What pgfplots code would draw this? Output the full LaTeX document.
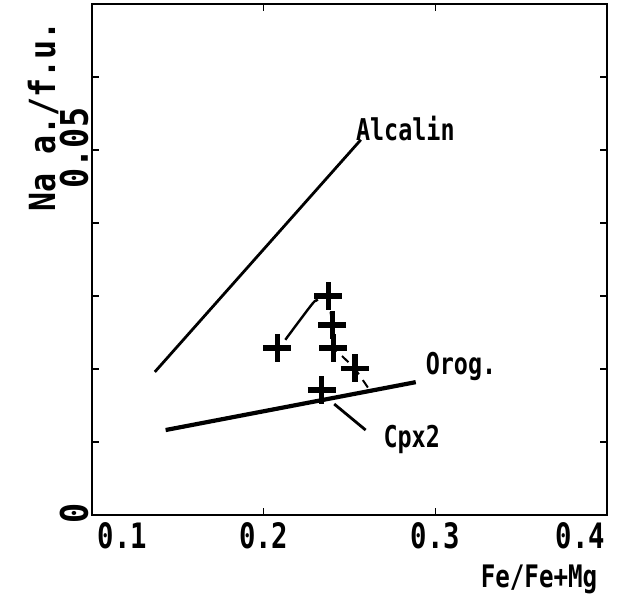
\documentclass[border=0pt]{standalone}
\usepackage{fontspec}
\setmainfont{DejaVu Sans Mono}[FakeStretch=0.78]
\newfontfamily\widefont{DejaVu Sans Mono}[FakeStretch=0.88]
\usepackage{pgfplots}
\pgfplotsset{compat=1.18}

\begin{document}
\begin{tikzpicture}
\begin{axis}[
    scale only axis,
    width=515pt, height=511pt,
    xmin=0.1, xmax=0.4,
    ymin=0, ymax=0.07,
    axis line style={line width=2.6pt},
    tick style={line width=1.6pt, black},
    major tick length=7pt,
    xtick={0.1,0.2,0.3,0.4},
    xticklabels={{\rlap{\hspace{6pt}0.1}},0.2,0.3,{\llap{0.4\hspace{2pt}}}},
    ytick={0,0.01,0.02,0.03,0.04,0.05,0.06},
    yticklabels={0,,,,,0.05,},
    xticklabel style={font=\bfseries\fontsize{35}{40}\selectfont, yshift=-4pt},
    yticklabel style={font=\widefont\bfseries\fontsize{38}{42}\selectfont, rotate=90, anchor=south, xshift=2pt},
    scaled ticks=false,
    xlabel={Fe/Fe+Mg},
    xlabel style={at={(axis description cs:0.868,-0.127)}, anchor=center,
        font=\bfseries\fontsize{31}{36}\selectfont},
    ylabel={Na a./f.u.},
    ylabel style={at={(axis description cs:-0.095,0.78)}, anchor=center,
        font=\widefont\bfseries\fontsize{36}{40}\selectfont},
    clip=false,
]
% Alcalin trend
\addplot[black, line width=2.8pt] coordinates {(0.1366,0.0196) (0.2566,0.0514)};
% Orogenic trend
\addplot[black, line width=4.2pt] coordinates {(0.1429,0.01164) (0.2886,0.0182)};
% Cpx2 leader
\addplot[black, line width=2.8pt] coordinates {(0.2411,0.0152) (0.2594,0.01164)};
% solid connector
\addplot[black, line width=2.4pt, smooth] coordinates {(0.2126,0.0240) (0.2286,0.0290) (0.2314,0.0293)};
% dashed connector
\addplot[black, line width=2pt, dash pattern=on 9pt off 7pt] coordinates {
    (0.2377,0.0300) (0.2400,0.0260) (0.2406,0.0229) (0.2531,0.0201) (0.2629,0.0167)};
% analyses
\addplot[only marks, mark=+, mark size=14pt, black, mark options={line width=5.5pt}] coordinates {
    (0.2377,0.0300) (0.2400,0.0260) (0.2406,0.0229)
    (0.2080,0.0229) (0.2531,0.0201) (0.2337,0.0171)};
\node[anchor=south west, inner sep=0pt, font=\bfseries\fontsize{30}{34}\selectfont] at (axis cs:0.2537,0.0512) {Alcalin};
\node[anchor=west, inner sep=0pt, font=\bfseries\fontsize{30}{34}\selectfont] at (axis cs:0.2943,0.0203) {Orog.};
\node[anchor=west, inner sep=0pt, font=\bfseries\fontsize{30}{34}\selectfont] at (axis cs:0.2697,0.0103) {Cpx2};
\end{axis}
\path (-92pt,-93pt) rectangle (529pt,515pt);
\end{tikzpicture}
\end{document}
